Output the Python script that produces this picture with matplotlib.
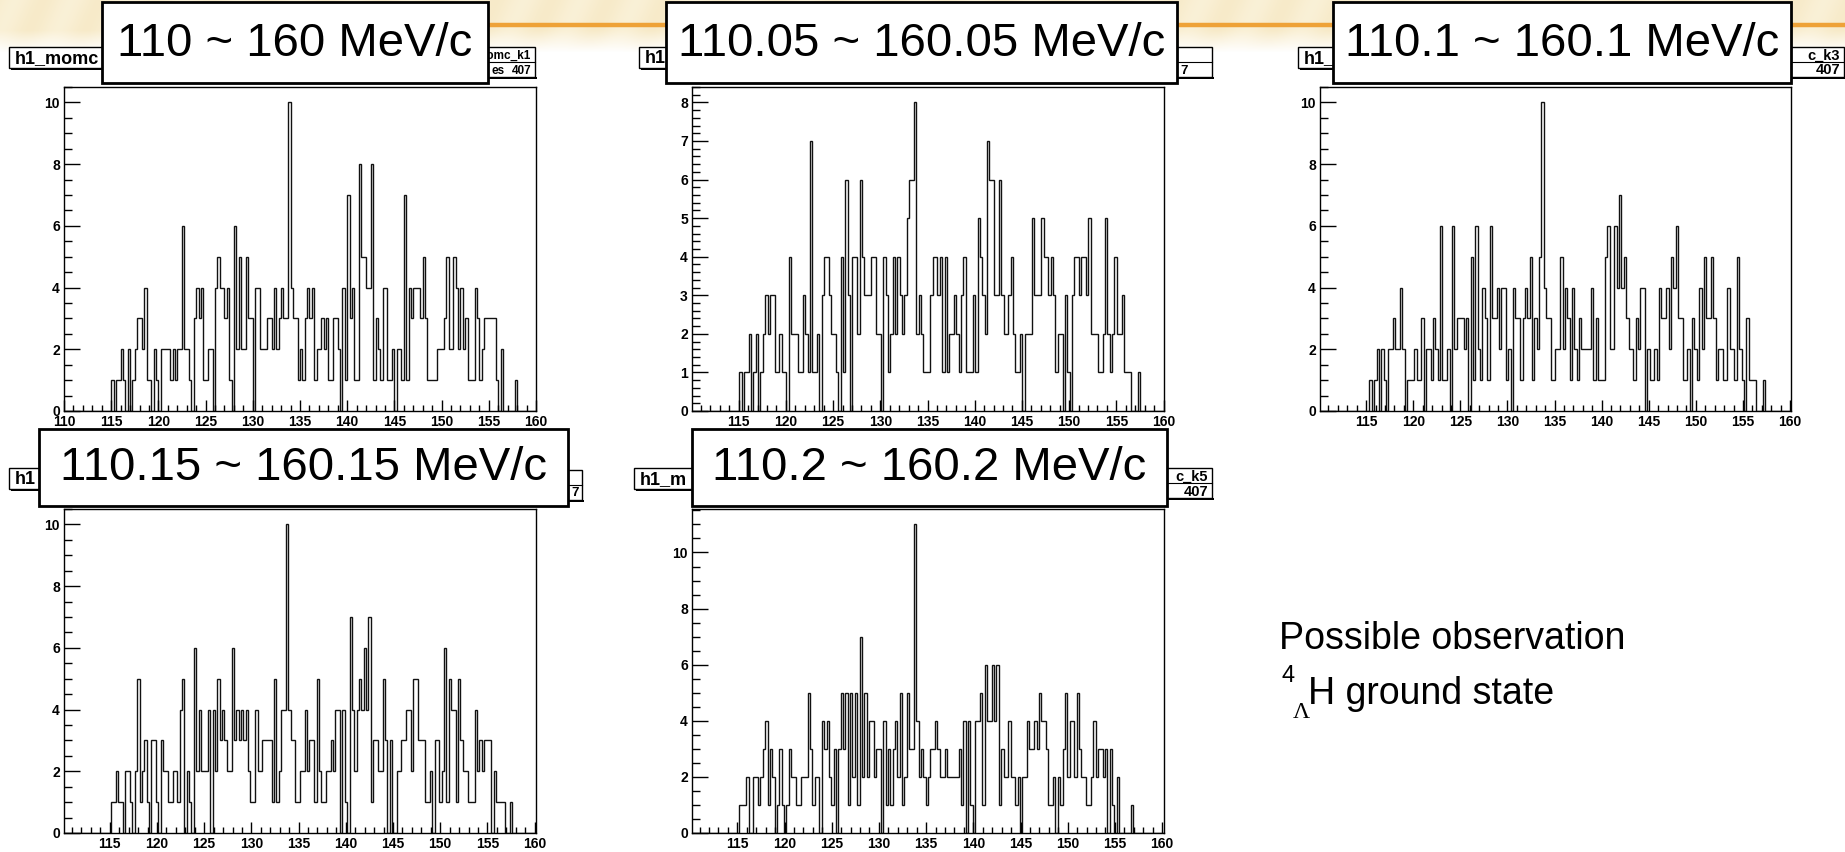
import numpy as np
import matplotlib
matplotlib.use("Agg")
import matplotlib.pyplot as plt
from matplotlib.patches import Rectangle
from matplotlib.ticker import MultipleLocator

W, H = 1845, 852

# bin contents, 200 bins of 0.25 MeV/c, one list per momentum window
h1_k1 = ([0] * 20
         + [1, 0, 1, 1, 2, 1, 0, 2, 0, 1, 2, 3, 3, 2, 4, 1, 1, 0, 2, 1]
         + [0, 2, 2, 2, 2, 1, 2, 1, 2, 2, 6, 2, 2, 1, 0, 3, 4, 3, 4, 1]
         + [1, 2, 2, 0, 4, 5, 4, 4, 3, 4, 1, 0, 6, 2, 5, 2, 2, 5, 3, 3]
         + [0, 4, 4, 2, 2, 2, 3, 3, 2, 4, 2, 3, 4, 3, 3, 10, 4, 3, 3, 1]
         + [2, 1, 3, 4, 3, 4, 1, 2, 2, 3, 2, 3, 1, 1, 3, 3, 2, 0, 4, 1]
         + [7, 3, 4, 1, 1, 8, 5, 5, 4, 4, 8, 1, 3, 2, 1, 4, 4, 1, 1, 2]
         + [0, 2, 2, 1, 7, 1, 4, 3, 4, 4, 4, 3, 5, 3, 1, 1, 1, 1, 2, 2]
         + [2, 3, 5, 2, 2, 5, 4, 2, 4, 2, 3, 1, 1, 1, 4, 3, 1, 2, 3, 3]
         + [3, 3, 3, 1, 0, 2, 0, 0, 0, 0, 0, 1, 0, 0, 0, 0, 0, 0, 0, 0])

h1_k2 = ([0] * 20
         + [1, 0, 1, 1, 2, 0, 1, 2, 0, 1, 2, 3, 2, 3, 3, 1, 1, 2, 1, 1]
         + [0, 4, 2, 2, 2, 1, 1, 3, 2, 1, 7, 1, 1, 2, 0, 3, 4, 4, 3, 2]
         + [2, 1, 0, 4, 1, 6, 3, 0, 4, 4, 2, 6, 4, 3, 3, 3, 4, 4, 2, 2]
         + [0, 4, 3, 1, 2, 4, 2, 4, 3, 2, 3, 5, 6, 6, 8, 2, 3, 2, 1, 1]
         + [1, 3, 4, 4, 3, 4, 1, 4, 1, 2, 2, 3, 2, 1, 3, 4, 1, 1, 1, 3]
         + [1, 5, 4, 3, 2, 7, 6, 6, 3, 3, 6, 3, 2, 2, 3, 4, 2, 1, 1, 2]
         + [0, 2, 2, 2, 5, 3, 3, 3, 5, 4, 4, 3, 4, 3, 1, 2, 2, 0, 3, 1]
         + [0, 3, 4, 4, 3, 4, 4, 3, 5, 2, 2, 2, 1, 1, 2, 5, 2, 1, 2, 4]
         + [2, 2, 3, 1, 1, 1, 0, 0, 0, 1, 0, 0, 0, 0, 0, 0, 0, 0, 0, 0])

h1_k3 = ([0] * 20
         + [0, 1, 0, 1, 2, 0, 2, 1, 0, 2, 2, 3, 2, 2, 4, 2, 0, 1, 1, 1]
         + [2, 1, 1, 3, 0, 2, 2, 1, 3, 2, 1, 6, 1, 1, 2, 0, 6, 2, 3, 3]
         + [3, 2, 3, 0, 5, 1, 6, 2, 1, 4, 3, 1, 6, 3, 3, 4, 2, 4, 4, 1]
         + [2, 0, 4, 3, 3, 1, 3, 4, 3, 5, 1, 3, 2, 5, 10, 4, 3, 3, 1, 1]
         + [2, 2, 5, 2, 4, 3, 1, 4, 2, 1, 3, 2, 2, 2, 2, 4, 1, 3, 1, 1]
         + [1, 5, 6, 2, 2, 6, 4, 7, 4, 5, 3, 2, 2, 1, 3, 2, 4, 4, 0, 2]
         + [1, 1, 2, 1, 4, 3, 3, 4, 2, 5, 4, 6, 3, 3, 1, 1, 2, 0, 3, 2]
         + [1, 4, 2, 5, 3, 3, 5, 3, 1, 2, 2, 1, 1, 4, 2, 2, 1, 5, 2, 1]
         + [0, 3, 1, 1, 1, 0, 0, 0, 1, 0, 0, 0, 0, 0, 0, 0, 0, 0, 0, 0])

h1_k4 = ([0] * 20
         + [1, 1, 2, 1, 1, 0, 2, 2, 1, 0, 2, 5, 1, 2, 3, 1, 0, 3, 3, 1]
         + [0, 3, 2, 2, 1, 1, 2, 2, 1, 4, 5, 0, 2, 1, 0, 6, 2, 4, 2, 2]
         + [2, 4, 0, 4, 2, 5, 3, 4, 3, 2, 2, 6, 3, 4, 3, 4, 3, 4, 2, 1]
         + [1, 4, 2, 2, 3, 3, 3, 3, 1, 5, 1, 2, 4, 4, 10, 4, 3, 3, 1, 1]
         + [2, 2, 4, 2, 3, 3, 1, 5, 2, 1, 1, 2, 2, 3, 2, 4, 4, 0, 4, 1]
         + [0, 7, 4, 2, 4, 5, 4, 6, 4, 7, 1, 3, 3, 2, 2, 5, 3, 0, 3, 0]
         + [0, 2, 2, 3, 3, 4, 4, 2, 5, 5, 3, 3, 3, 1, 1, 2, 0, 3, 3, 1]
         + [2, 6, 1, 5, 4, 4, 1, 5, 3, 2, 2, 1, 1, 1, 4, 2, 3, 2, 3, 3]
         + [3, 0, 2, 1, 1, 1, 1, 0, 0, 1, 0, 0, 0, 0, 0, 0, 0, 0, 0, 0])

h1_k5 = ([0] * 20
         + [1, 1, 1, 2, 0, 0, 2, 2, 1, 2, 3, 4, 1, 3, 2, 0, 1, 3, 1, 0]
         + [1, 3, 2, 2, 1, 1, 2, 2, 2, 5, 3, 1, 2, 2, 0, 4, 3, 4, 2, 1]
         + [3, 0, 3, 5, 3, 5, 1, 5, 2, 5, 1, 7, 2, 5, 2, 4, 4, 2, 3, 3]
         + [0, 4, 1, 3, 1, 3, 4, 2, 5, 1, 2, 5, 3, 3, 11, 4, 2, 3, 2, 1]
         + [2, 3, 3, 4, 3, 2, 2, 3, 2, 2, 2, 2, 2, 3, 1, 4, 0, 4, 1, 0]
         + [4, 4, 5, 1, 6, 4, 4, 6, 4, 6, 1, 3, 2, 2, 4, 2, 2, 1, 2, 0]
         + [2, 2, 4, 3, 3, 4, 3, 5, 4, 4, 3, 1, 1, 2, 0, 2, 1, 3, 5, 2]
         + [4, 4, 2, 5, 3, 2, 2, 1, 1, 2, 4, 2, 3, 3, 2, 3, 0, 3, 1, 0]
         + [2, 0, 0, 0, 0, 0, 1, 0, 0, 0, 0, 0, 0, 0, 0, 0, 0, 0, 0, 0])

histos = [h1_k1, h1_k2, h1_k3, h1_k4, h1_k5]
offsets = [0.0, 0.05, 0.1, 0.15, 0.2]
labels = ["110 ~ 160 MeV/c", "110.05 ~ 160.05 MeV/c", "110.1 ~ 160.1 MeV/c",
          "110.15 ~ 160.15 MeV/c", "110.2 ~ 160.2 MeV/c"]
# the parts of the ROOT title / stats boxes left uncovered by the label boxes
title_txt = ["h1_momc", "h1", "h1_", "h1", "h1_m"]
stat_name = ["momc_k1", "", "c_k3", "", "c_k5"]
stat_entries = [("es", "407"), ("", "7"), ("", "407"), ("", "7"), ("", "407")]

# pad geometry in pixels: frame, big label box, title box, stats box
frames = [(64, 87, 536, 411), (692, 87, 1164, 411), (1320, 87, 1791, 411),
          (64, 509, 536, 833), (692, 509, 1164, 833)]
label_boxes = [(102, 2, 488, 83), (666, 2, 1177, 83), (1333, 2, 1791, 83),
               (39, 429, 568, 506), (692, 429, 1167, 506)]
title_boxes = [(9, 47, 170, 68), (639, 47, 790, 68), (1298, 47, 1440, 68),
               (9, 468, 170, 489), (634, 468, 790, 489)]
stats_boxes = [(425, 47, 535, 77), (1110, 47, 1212, 77), (1734, 47, 1844, 77),
               (472, 470, 582, 500), (1102, 468, 1212, 498)]
stat_fs = [8.5, 9.5, 10.5, 9.5, 10.5]
y_major = [2, 1, 2, 2, 2]
y_minor = [0.5, 0.2, 0.5, 0.5, 0.5]

plt.rcParams["font.family"] = ["Liberation Sans", "DejaVu Sans"]

fig = plt.figure(figsize=(W / 100, H / 100), dpi=100)


def rect(x0, y0, x1, y1):
    return [x0 / W, 1 - y1 / H, (x1 - x0) / W, (y1 - y0) / H]


# slide header band
bg = fig.add_axes([0, 0, 1, 1], zorder=-5)
bg.set_xlim(0, W)
bg.set_ylim(H, 0)
bg.axis("off")
yy, xx = np.mgrid[0:60, 0:W]
stripe = 0.5 + 0.5 * np.sin((xx + 0.45 * yy) / 9.0)
fade = np.clip(1 - (yy - 30) / 22.0, 0, 1)
base = np.array([0.97, 0.92, 0.79])
light = np.array([0.99, 0.965, 0.89])
img = base[None, None, :] * (1 - 0.5 * stripe[..., None]) + light[None, None, :] * 0.5 * stripe[..., None]
img = img * fade[..., None] + (1 - fade[..., None])
bg.imshow(img, extent=(0, W, 60, 0), aspect="auto", interpolation="bilinear")
bg.plot([300, W], [25, 25], color="#eea238", lw=3.2, solid_capstyle="butt")

for i, vals in enumerate(histos):
    vals = np.array(vals)
    lo = 110 + offsets[i]
    edges = lo + 0.25 * np.arange(len(vals) + 1)
    ax = fig.add_axes(rect(*frames[i]))
    ax.stairs(vals, edges, color="#111111", lw=1.0)
    ax.set_xlim(lo, lo + 50)
    ax.set_ylim(0, vals.max() * 1.05)
    ax.xaxis.set_major_locator(MultipleLocator(5))
    ax.xaxis.set_minor_locator(MultipleLocator(1))
    ax.yaxis.set_major_locator(MultipleLocator(y_major[i]))
    ax.yaxis.set_minor_locator(MultipleLocator(y_minor[i]))
    ax.tick_params(axis="y", which="major", direction="in", length=11.5, width=1, pad=3,
                   labelsize=10)
    ax.tick_params(axis="y", which="minor", direction="in", length=6, width=1)
    ax.tick_params(axis="x", which="major", direction="in", length=8, width=1, pad=3,
                   labelsize=10)
    ax.tick_params(axis="x", which="minor", direction="in", length=4, width=1)
    for lab in ax.get_xticklabels() + ax.get_yticklabels():
        lab.set_fontweight("bold")
    for sp in ax.spines.values():
        sp.set_linewidth(1.0)

# boxes on top of the pads
ov = fig.add_axes([0, 0, 1, 1], zorder=10)
ov.set_xlim(0, W)
ov.set_ylim(H, 0)
ov.axis("off")

for i in range(5):
    lx0, ly0, lx1, ly1 = label_boxes[i]

    x0, y0, x1, y1 = title_boxes[i]
    ov.add_patch(Rectangle((x0, y0), x1 - x0, y1 - y0, fc="white", ec="black", lw=1.0, zorder=1))
    ov.add_patch(Rectangle((x0 + 2, y1), x1 - x0, 2, fc="black", ec="none", zorder=0.9))
    ov.text(x0 + 6, (y0 + y1) / 2 + 1, title_txt[i], fontsize=13, fontweight="bold",
            ha="left", va="center", zorder=1.1)

    x0, y0, x1, y1 = stats_boxes[i]
    ym = (y0 + y1) / 2
    ov.add_patch(Rectangle((x0, y0), x1 - x0, y1 - y0, fc="white", ec="black", lw=1.0, zorder=1))
    ov.add_patch(Rectangle((x0 + 2, y1), x1 - x0, 2, fc="black", ec="none", zorder=0.9))
    ov.plot([x0, x1], [ym, ym], color="black", lw=0.8, zorder=1.1)
    if stat_name[i]:
        ov.text(x1 - 4, (y0 + ym) / 2 + 1, stat_name[i], fontsize=stat_fs[i],
                fontweight="bold", ha="right", va="center", zorder=1.1)
    if stat_entries[i][0]:
        ov.text(lx1 + 4, (ym + y1) / 2 + 1, stat_entries[i][0], fontsize=stat_fs[i],
                fontweight="bold", ha="left", va="center", zorder=1.1)
    if stat_entries[i][1] == "7":
        ov.text(lx1 + 3, (ym + y1) / 2 + 1, "7", fontsize=stat_fs[i],
                fontweight="bold", ha="left", va="center", zorder=1.1)
    else:
        ov.text(x1 - 4, (ym + y1) / 2 + 1, stat_entries[i][1], fontsize=stat_fs[i],
                fontweight="bold", ha="right", va="center", zorder=1.1)

    ov.add_patch(Rectangle((lx0, ly0), lx1 - lx0, ly1 - ly0, fc="white", ec="black", lw=2.0, zorder=3))
    ov.text((lx0 + lx1) / 2, (ly0 + ly1) / 2 + 1, labels[i], fontsize=34,
            ha="center", va="center", zorder=3.1)

ov.text(1279, 639, "Possible observation", fontsize=27, ha="left", va="center")
ov.text(1281, 676, "4", fontsize=17, ha="left", va="center")
ov.text(1293, 712, "Λ", fontsize=17, ha="left", va="center", family="Liberation Serif")
ov.text(1308, 694, "H ground state", fontsize=27, ha="left", va="center")

fig.savefig("out.png", dpi=100)
